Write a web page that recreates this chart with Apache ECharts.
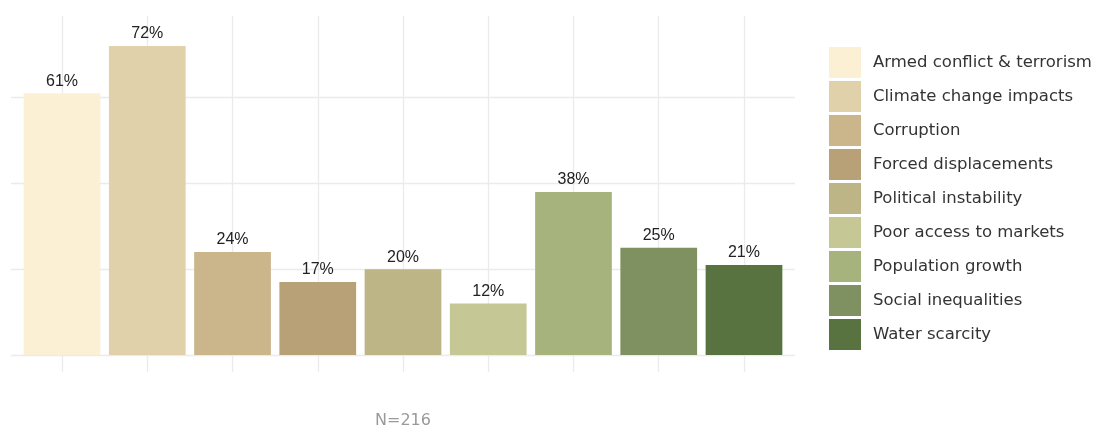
<!DOCTYPE html>
<html>
<head>
<meta charset="utf-8">
<script src="https://cdn.jsdelivr.net/npm/echarts@6/dist/echarts.min.js"></script>
<style>
  html, body { margin: 0; padding: 0; background: #ffffff; }
  #chart { width: 1099px; height: 428px; }
</style>
</head>
<body>
<div id="chart"></div>
<script>
// Drivers named by respondents, share of N=216
const categories = [
  'Armed conflict & terrorism',
  'Climate change impacts',
  'Corruption',
  'Forced displacements',
  'Political instability',
  'Poor access to markets',
  'Population growth',
  'Social inequalities',
  'Water scarcity'
];
const shares = [61, 72, 24, 17, 20, 12, 38, 25, 21];
const palette = [
  '#fbf0d4', '#e1d1aa', '#cbb58a', '#b8a176', '#bdb586',
  '#c5c895', '#a7b37c', '#7f9160', '#58733f'
];
const gridValues = [0, 20, 40, 60];
const sampleNote = 'N=216';

const Y_MIN = -3.96;
const Y_MAX = 79;
const GRID_COLOR = '#ebebeb';

const chart = echarts.init(document.getElementById('chart'), null, { renderer: 'canvas' });

const barSeries = categories.map((name, i) => ({
  name: name,
  type: 'bar',
  xAxisIndex: 0,
  yAxisIndex: 0,
  barGap: '-100%',
  barWidth: '90%',
  data: shares.map((v, j) => (j === i ? v : null)),
  itemStyle: { color: palette[i] },
  label: {
    show: true,
    position: 'top',
    distance: 4,
    formatter: '{c}%',
    fontFamily: 'Liberation Sans, Arial, sans-serif',
    fontSize: 16,
    color: '#222222'
  },
  emphasis: { disabled: true }
}));

chart.setOption({
  animation: false,
  backgroundColor: '#ffffff',
  title: {
    text: sampleNote,
    left: 403,
    top: 413,
    textAlign: 'center',
    padding: 0,
    textStyle: {
      fontFamily: 'DejaVu Sans, sans-serif',
      fontSize: 16,
      fontWeight: 'normal',
      color: '#9a9a9a'
    }
  },
  legend: {
    data: categories,
    orient: 'vertical',
    left: 829,
    top: 47,
    padding: 0,
    icon: 'rect',
    itemWidth: 32,
    itemHeight: 31,
    itemGap: 3,
    selectedMode: false,
    textStyle: {
      fontFamily: 'DejaVu Sans, sans-serif',
      fontSize: 16.5,
      color: '#333333',
      padding: [0, 0, 0, 7]
    }
  },
  grid: [
    // bars and vertical guides
    { left: 19.4, right: 312.4, top: 16, bottom: 56 },
    // horizontal guides, slightly wider than the bar band
    { left: 11, right: 304, top: 16, bottom: 73 }
  ],
  xAxis: [
    {
      type: 'category',
      gridIndex: 0,
      data: categories,
      axisLine: { show: false, onZero: false },
      axisLabel: { show: false, interval: 0 },
      axisTick: {
        show: true,
        inside: true,
        interval: 0,
        alignWithLabel: true,
        length: 356,
        lineStyle: { color: GRID_COLOR, width: 1.3 }
      },
      splitLine: { show: false }
    },
    {
      type: 'category',
      gridIndex: 1,
      data: categories,
      show: false
    }
  ],
  yAxis: [
    {
      type: 'value',
      gridIndex: 0,
      min: Y_MIN,
      max: Y_MAX,
      show: false,
      splitLine: { show: false }
    },
    {
      type: 'value',
      gridIndex: 1,
      min: gridValues[0],
      max: Y_MAX,
      interval: gridValues[1] - gridValues[0],
      axisLine: { show: false },
      axisTick: { show: false },
      axisLabel: { show: false },
      splitLine: {
        show: true,
        showMinLine: true,
        showMaxLine: false,
        lineStyle: { color: GRID_COLOR, width: 1.3 }
      }
    }
  ],
  series: barSeries
});
</script>
</body>
</html>
